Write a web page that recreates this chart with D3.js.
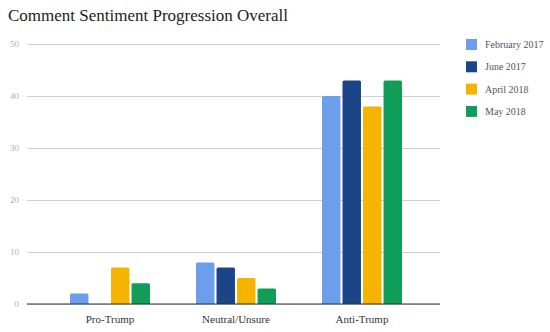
<!DOCTYPE html>
<meta charset="utf-8">
<style>
  body { margin: 0; background: #fff; }
  text { font-family: "Liberation Serif", "DejaVu Serif", serif; }
</style>
<body>
<script src="https://d3js.org/d3.v7.min.js"></script>
<script>
  var categories = ["Pro-Trump", "Neutral/Unsure", "Anti-Trump"];
  var seriesNames = ["February 2017", "June 2017", "April 2018", "May 2018"];
  var colors = ["#6d9eeb", "#1c4587", "#f4b400", "#0f9d58"];
  var feb2017 = [2, 8, 40];
  var jun2017 = [0, 7, 43];
  var apr2018 = [7, 5, 38];
  var may2018 = [4, 3, 43];
  var yTicks = [0, 10, 20, 30, 40, 50];

  var seriesValues = [feb2017, jun2017, apr2018, may2018];

  var width = 550, height = 332;

  var svg = d3.select("body").append("svg")
      .attr("width", width)
      .attr("height", height);

  // title
  svg.append("text")
      .attr("x", 8)
      .attr("y", 21)
      .attr("font-size", 17)
      .attr("fill", "#222")
      .text("Comment Sentiment Progression Overall");

  var y = d3.scaleLinear().domain([0, 50]).range([304, 44]);
  var x0 = d3.scaleBand().domain(categories).range([47, 425]);
  var x1 = d3.scaleBand().domain(seriesNames).range([0, 80]).paddingInner(0.1);

  // gridlines + y labels
  var yAxis = svg.append("g")
      .attr("transform", "translate(27,0)")
      .call(d3.axisLeft(y).tickValues(yTicks).tickSize(-413).tickPadding(8));
  yAxis.select(".domain").remove();
  yAxis.selectAll(".tick line").attr("stroke", "#d0d0d0");
  yAxis.selectAll(".tick text")
      .attr("fill", "#b0b0b0")
      .attr("font-size", 9)
      .style("font-family", "Liberation Serif, serif");

  // bars
  var groups = svg.append("g").selectAll("g")
      .data(categories)
      .enter().append("g")
      .attr("transform", function(d) { return "translate(" + (x0(d) + (x0.bandwidth() - 80) / 2) + ",0)"; });

  groups.selectAll("path")
      .data(function(d, i) {
        return seriesNames.map(function(s, j) { return {s: s, v: seriesValues[j][i], c: colors[j]}; });
      })
      .enter().append("path")
      .filter(function(d) { return d.v > 0; })
      .attr("fill", function(d) { return d.c; })
      .attr("d", function(d) {
        var bx = x1(d.s), bw = x1.bandwidth(), top = y(d.v), base = y(0), r = 1.5;
        return "M" + bx + "," + base +
          "V" + (top + r) +
          "Q" + bx + "," + top + " " + (bx + r) + "," + top +
          "H" + (bx + bw - r) +
          "Q" + (bx + bw) + "," + top + " " + (bx + bw) + "," + (top + r) +
          "V" + base + "Z";
      });

  // baseline
  svg.append("line")
      .attr("x1", 27).attr("x2", 440)
      .attr("y1", y(0)).attr("y2", y(0))
      .attr("stroke", "#333").attr("stroke-width", 1.2);

  // category labels
  var xAxis = svg.append("g")
      .attr("transform", "translate(0," + y(0) + ")")
      .call(d3.axisBottom(x0).tickSize(0).tickPadding(11));
  xAxis.select(".domain").remove();
  xAxis.selectAll(".tick text")
      .attr("fill", "#333")
      .attr("font-size", 11)
      .style("font-family", "Liberation Serif, serif");

  // legend
  var legend = svg.append("g").selectAll("g")
      .data(seriesNames)
      .enter().append("g")
      .attr("transform", function(d, i) { return "translate(466," + (39 + i * 22.3) + ")"; });

  legend.append("rect")
      .attr("width", 11).attr("height", 11)
      .attr("fill", function(d, i) { return colors[i]; });

  legend.append("text")
      .attr("x", 19).attr("y", 9)
      .attr("font-size", 10)
      .attr("fill", "#555")
      .text(function(d) { return d; });
</script>
</body>
</html>
